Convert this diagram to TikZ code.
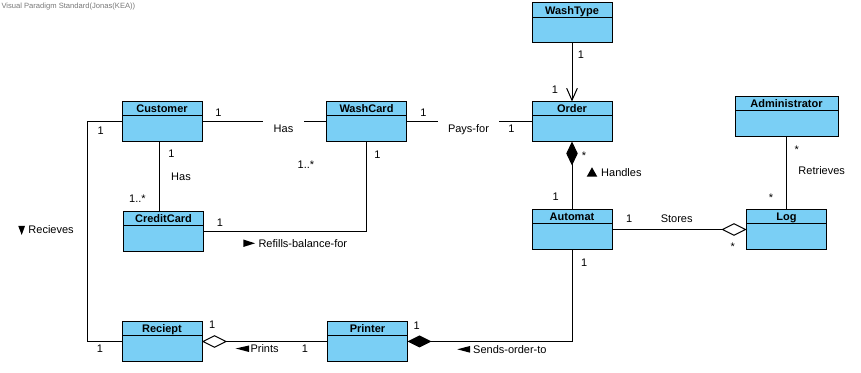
\documentclass[tikz,border=0pt]{standalone}
\usepackage{fontspec}
\setmainfont{Liberation Sans}
\usetikzlibrary{arrows.meta}
\definecolor{clsfill}{RGB}{122,207,245}
\definecolor{wmgray}{RGB}{120,120,120}

% class box: [width in px]{name}{title}{left x}{top y}
\newcommand\umlclass[5][80]{%
  \node[cls, minimum width=#1*0.75pt] (#2) at (#4,#5) {};
  \draw ([yshift=-10.875pt]#2.north west) -- ([yshift=-10.875pt]#2.north east);
  \node[clstitle] (#2-title) at ([yshift=-8.625pt]#2.north) {#3};
}

\begin{document}
\begin{tikzpicture}[x=0.75pt,y=-0.75pt,line width=0.75pt,
  cls/.style={draw=black, fill=clsfill, minimum height=30pt, anchor=north west,
    inner sep=0pt, outer sep=0pt},
  clstitle/.style={font=\fontsize{8.25pt}{9pt}\selectfont\bfseries, inner sep=0pt, anchor=base},
  lbl/.style={font=\fontsize{8.25pt}{9pt}\selectfont, inner sep=0pt, anchor=base},
  lblw/.style={lbl, anchor=base west},
  gaplbl/.style={lbl, fill=white, inner xsep=7.7pt, text height=10pt, text depth=2pt},
  composite/.style={{Diamond[length=18pt,width=8.6pt]}-},
  compositeend/.style={-{Diamond[length=18pt,width=9pt]}},
  aggregend/.style={-{Diamond[fill=white,length=18.75pt,width=9.5pt]}},
  navigable/.style={-{Straight Barb[length=9pt,width=8pt]}},
  dirmark/.style={fill=black, draw=none}
]
\useasboundingbox (0,0) rectangle (861,373);

\node[anchor=west, inner sep=0pt, text=wmgray, font=\fontsize{5.7pt}{6pt}\selectfont]
  (watermark) at (1,6.5) {Visual Paradigm Standard(Jonas(KEA))};

% classes
\umlclass{WashType}{WashType}{532}{3}
\umlclass{Customer}{Customer}{122}{101.5}
\umlclass{WashCard}{WashCard}{326.5}{101.5}
\umlclass{Order}{Order}{532}{101.5}
\umlclass[103]{Administrator}{Administrator}{735}{96.5}
\umlclass{CreditCard}{CreditCard}{123.5}{211.5}
\umlclass{Automat}{Automat}{532}{209.5}
\umlclass{Log}{Log}{746.5}{209.5}
\umlclass{Reciept}{Reciept}{122}{321.5}
\umlclass{Printer}{Printer}{327.5}{321.5}

% associations
\coordinate (hasx) at (159.5,0);
\draw (Customer.east) -- (WashCard.west);
\draw (WashCard.east) -- (Order.west);
\draw (Customer.south -| hasx) -- (CreditCard.north -| hasx);
\draw (WashCard.south) |- (CreditCard.east);
\draw[navigable] (WashType.south) -- (Order.north);
\draw[composite] (Order.south) -- (Automat.north);
\draw[aggregend] (Automat.east) -- (Log.west);
\draw (Administrator.south) -- (Log.north);
\draw[compositeend] (Automat.south) |- (Printer.east);
\draw[aggregend] (Printer.west) -- (Reciept.east);
\draw (Customer.west) -- ++(-34.5,0) |- (Reciept.west);

% Customer - WashCard
\node[lbl] (m1) at (218.5,117) {1};
\node[gaplbl] (hasCW) at (283.5,133) {Has};
\node[lbl] (m2) at (306,168.5) {1..*};
% WashCard - Order
\node[lbl] (m3) at (423.5,116.5) {1};
\node[gaplbl] (paysfor) at (468.5,133) {Pays-for};
\node[lbl] (m4) at (511.5,133) {1};
% Customer - CreditCard
\node[lbl] (m5) at (171.5,157.5) {1};
\node[lbl] (hasCC) at (181,181) {Has};
\node[lbl] (m6) at (137.5,203) {1..*};
% WashCard - CreditCard
\node[lbl] (m7) at (377.5,158.5) {1};
\node[lbl] (m8) at (220,226.5) {1};
\fill[dirmark] (243.3,239.5) -- (255,243.3) -- (243.3,247) -- cycle;
\node[lblw] (refills) at (258,247.3) {Refills-balance-for};
% WashType - Order
\node[lbl] (m9) at (581,59) {1};
\node[lbl] (m10) at (555,94) {1};
% Order - Automat
\node[lbl] (m11) at (584,159.5) {*};
\fill[dirmark] (586.7,176.7) -- (592,167.3) -- (597.3,176.7) -- cycle;
\node[lblw] (handles) at (600.7,176.7) {Handles};
\node[lbl] (m12) at (555.7,200.7) {1};
% Automat - Log
\node[lbl] (m13) at (629.3,222.3) {1};
\node[lbl] (stores) at (676.7,222.3) {Stores};
\node[lbl] (m14) at (732.7,250.2) {*};
% Administrator - Log
\node[lbl] (m15) at (796.7,153.5) {*};
\node[lbl] (retrieves) at (821.7,175) {Retrieves};
\node[lbl] (m16) at (771,201.2) {*};
% Automat - Printer
\node[lbl] (m17) at (584.3,266.3) {1};
\node[lbl] (m18) at (416.7,330) {1};
\fill[dirmark] (457.3,349.3) -- (470,346) -- (470,352.7) -- cycle;
\node[lblw] (sends) at (472.7,353.3) {Sends-order-to};
% Printer - Reciept
\node[lbl] (m19) at (212.3,329) {1};
\fill[dirmark] (235.7,348.5) -- (249,345.5) -- (249,352) -- cycle;
\node[lblw] (prints) at (250,353) {Prints};
\node[lbl] (m20) at (305,353) {1};
% Customer - Reciept
\node[lbl] (m21) at (100.7,135) {1};
\node[lbl] (m22) at (100,353) {1};
\fill[dirmark] (18.3,226) -- (25,226) -- (21.7,235) -- cycle;
\node[lblw] (recieves) at (28,234) {Recieves};
\end{tikzpicture}
\end{document}
